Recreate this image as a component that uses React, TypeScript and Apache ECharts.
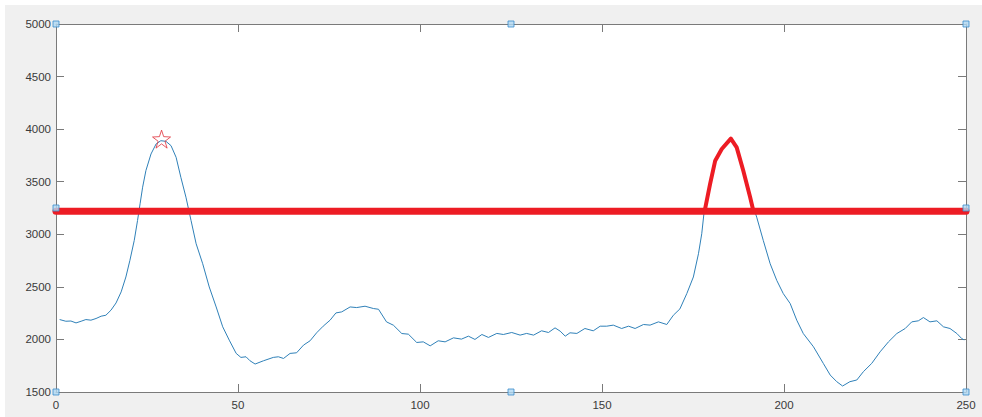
import React, { useEffect, useRef } from "react";
import * as echarts from "echarts";

// Signal (blue trace)
const signalX = [1, 2.7, 4.1, 5.5, 6.9, 8.2, 9.6, 11, 12.4, 13.7, 15.1, 16.5, 17.9, 19.2, 20.3, 21.5, 22.4, 23.1, 23.8, 24.7, 26.1, 27.5, 28.8, 30.2, 31.6, 33, 34.3, 35.7, 37.1, 38.5, 40.3, 42.1, 44, 45.8, 47.6, 49.5, 50.8, 52.2, 53.3, 54.7, 57, 59.7, 61.1, 62.5, 64.3, 66.1, 68, 69.8, 71.6, 73.4, 75.3, 76.9, 78.5, 80.8, 82.6, 84.9, 87.2, 88.6, 90.8, 92.7, 95, 96.8, 99.1, 100.9, 102.8, 105, 106.9, 109.2, 111.4, 113.3, 115.1, 117, 118.8, 121.1, 122.9, 125.2, 127.5, 129.3, 131.2, 133.4, 135.3, 137.1, 138.5, 139.9, 141.2, 143.1, 145.3, 147.6, 149.5, 151.3, 153.1, 155.4, 157.3, 159.1, 161.4, 163.2, 165.5, 167.8, 169.6, 171.4, 173.3, 175.1, 176.5, 177.4, 178, 179.7, 181.1, 182.9, 185.4, 187, 188.8, 190.7, 192.5, 194.3, 196.2, 198, 199.8, 201.7, 203.5, 205.3, 208.1, 210.8, 212.7, 214.5, 216.1, 218.1, 220, 221.8, 224.1, 226.4, 228.7, 231, 233.3, 235.1, 236.9, 238.3, 240.1, 242, 243.8, 245.6, 247.5, 248.8, 249.5];
const signalY = [2189, 2173, 2175, 2157, 2173, 2189, 2183, 2199, 2221, 2230, 2278, 2347, 2452, 2594, 2752, 2942, 3131, 3290, 3448, 3606, 3764, 3859, 3890, 3884, 3843, 3732, 3542, 3353, 3131, 2910, 2720, 2499, 2309, 2120, 1993, 1867, 1829, 1835, 1797, 1766, 1797, 1829, 1835, 1819, 1867, 1873, 1946, 1987, 2063, 2126, 2183, 2252, 2262, 2309, 2303, 2316, 2294, 2287, 2167, 2135, 2056, 2050, 1971, 1977, 1939, 1987, 1977, 2015, 2003, 2031, 2000, 2047, 2019, 2057, 2047, 2066, 2041, 2057, 2041, 2082, 2066, 2110, 2079, 2031, 2063, 2057, 2104, 2082, 2126, 2126, 2136, 2104, 2126, 2104, 2142, 2136, 2167, 2142, 2230, 2290, 2436, 2594, 2815, 3005, 3195, 3479, 3700, 3811, 3910, 3827, 3606, 3353, 3163, 2942, 2720, 2562, 2436, 2341, 2183, 2056, 1930, 1772, 1661, 1598, 1557, 1598, 1614, 1693, 1772, 1882, 1977, 2056, 2104, 2167, 2177, 2208, 2167, 2177, 2120, 2104, 2056, 2009, 1995];

// Threshold line
const thresholdX = [0, 250];
const thresholdY = [3220, 3220];

// Highlighted segment above threshold
const aboveX = [178.2, 179.7, 181.1, 182.9, 185.4, 187, 188.8, 190.7, 191.6];
const aboveY = [3220, 3479, 3700, 3811, 3910, 3827, 3606, 3353, 3220];

// Peak marker (star)
const peakX = [29];
const peakY = [3905];

// Selection handles
const handleX = [0, 125, 250, 0, 250, 0, 125, 250];
const handleY = [5000, 5000, 5000, 3250, 3250, 1500, 1500, 1500];

// Axes
const xMin = 0, xMax = 250, xStep = 50;
const yMin = 1500, yMax = 5000, yStep = 500;

const zip = (a: number[], b: number[]) => a.map((v, i) => [v, b[i]]);

const STAR = "path://M50,0 L61.8,36.2 L100,38.2 L69.1,61.8 L80.9,100 L50,76.4 L19.1,100 L30.9,61.8 L0,38.2 L38.2,36.2 Z";

export default function App() {
  const ref = useRef<HTMLDivElement>(null);
  useEffect(() => {
    if (!ref.current) return;
    const chart = echarts.init(ref.current, undefined, { renderer: "svg" });
    const axisColor = "#7a7a7a";
    const labelStyle = {
      color: "#3a3a3a",
      fontSize: 11.5,
      fontFamily: "'Liberation Sans', Arial, sans-serif",
      formatter: (v: number) => String(v),
    };
    const baseX = {
      type: "value" as const,
      min: xMin,
      max: xMax,
      interval: xStep,
      splitLine: { show: false },
      axisLine: { show: true, onZero: false, lineStyle: { color: axisColor, width: 1 } },
      axisTick: { show: true, inside: true, length: 8, lineStyle: { color: axisColor } },
    };
    const baseY = {
      type: "value" as const,
      min: yMin,
      max: yMax,
      interval: yStep,
      splitLine: { show: false },
      axisLine: { show: true, onZero: false, lineStyle: { color: axisColor, width: 1 } },
      axisTick: { show: true, inside: true, length: 8, lineStyle: { color: axisColor } },
    };
    chart.setOption({
      animation: false,
      backgroundColor: "#f0f0f0",
      grid: { left: 51, top: 19, right: 16, bottom: 25, show: true, backgroundColor: "#ffffff", borderWidth: 0 },
      xAxis: [
        { ...baseX, position: "bottom", axisLabel: { ...labelStyle, margin: 7 } },
        { ...baseX, position: "top", axisLabel: { show: false } },
      ],
      yAxis: [
        { ...baseY, position: "left", axisLabel: { ...labelStyle, margin: 5 } },
        { ...baseY, position: "right", axisLabel: { show: false } },
      ],
      series: [
        {
          type: "line",
          data: zip(signalX, signalY),
          showSymbol: false,
          symbol: "none",
          lineStyle: { color: "#2f80b8", width: 1 },
          z: 2,
        },
        {
          type: "line",
          data: zip(thresholdX, thresholdY),
          symbol: "none",
          clip: false,
          lineStyle: { color: "#ed1c24", width: 7, cap: "round" },
          z: 3,
        },
        {
          type: "line",
          data: zip(aboveX, aboveY),
          symbol: "none",
          lineStyle: { color: "#ed1c24", width: 4, join: "round", cap: "round" },
          z: 4,
        },
        {
          type: "scatter",
          data: zip(peakX, peakY),
          symbol: STAR,
          symbolSize: 18,
          itemStyle: { color: "rgba(255,255,255,0)", borderColor: "#e0303a", borderWidth: 1 },
          z: 5,
        },
        {
          type: "scatter",
          data: zip(handleX, handleY),
          symbol: "rect",
          symbolSize: 6,
          clip: false,
          itemStyle: { color: "#b0d8f2", borderColor: "#3a8ccc", borderWidth: 1 },
          z: 6,
        },
      ],
    });
    return () => chart.dispose();
  }, []);
  return (
    <div style={{ position: "fixed", left: 0, top: 0, width: 982, height: 417, background: "#ffffff" }}>
      <div ref={ref} style={{ position: "absolute", left: 5, top: 5, width: 977, height: 412 }} />
    </div>
  );
}
